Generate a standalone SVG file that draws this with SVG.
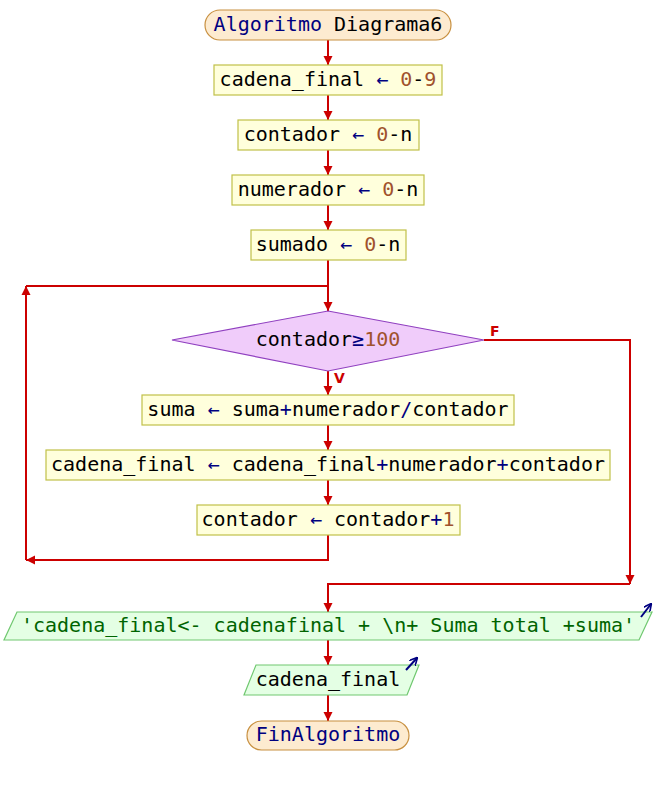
<svg xmlns="http://www.w3.org/2000/svg" width="656" height="785" viewBox="0 0 656 785">
  <style>
    text { font-family: "DejaVu Sans Mono", "Liberation Mono", monospace; font-size: 20px; fill: #000000; }
    .c { text-anchor: middle; }
    .kw { fill: #000080; }
    .op { fill: #000080; }
    .num { fill: #a0522d; }
    .str { fill: #006400; }
    .lbl { font-family: "DejaVu Sans", "Liberation Sans", sans-serif; font-size: 14px; font-weight: bold; fill: #cc0000; }
    .term { fill: #fdebd0; stroke: #c89040; stroke-width: 1.2; }
    .proc { fill: #ffffdc; stroke: #c0c048; stroke-width: 1.2; }
    .dec { fill: #f0ccfa; stroke: #9040c0; stroke-width: 1.2; }
    .io { fill: #e4ffe4; stroke: #70c870; stroke-width: 1.2; }
    .wire { fill: none; stroke: #cc0000; stroke-width: 2; }
    .outicon { fill: none; stroke: #000080; stroke-width: 2; }
  </style>
  <defs>
    <marker id="arr" viewBox="0 0 10 10" refX="10" refY="5" markerWidth="9" markerHeight="10" markerUnits="userSpaceOnUse" orient="auto">
      <path d="M0,0 L10,5 L0,10 Z" fill="#cc0000"/>
    </marker>
    <marker id="outarr" viewBox="0 0 10 10" refX="9" refY="5" markerWidth="8" markerHeight="8" markerUnits="userSpaceOnUse" orient="auto">
      <path d="M0,0 L10,5 L0,10" fill="none" stroke="#000080" stroke-width="2"/>
    </marker>
  </defs>

  <!-- connectors -->
  <g id="connectors">
    <line class="wire" x1="328" y1="40" x2="328" y2="65" marker-end="url(#arr)"/>
    <line class="wire" x1="328" y1="95" x2="328" y2="120" marker-end="url(#arr)"/>
    <line class="wire" x1="328" y1="150" x2="328" y2="175" marker-end="url(#arr)"/>
    <line class="wire" x1="328" y1="205" x2="328" y2="230" marker-end="url(#arr)"/>
    <line class="wire" x1="328" y1="260" x2="328" y2="311" marker-end="url(#arr)"/>
    <line class="wire" x1="328" y1="371" x2="328" y2="395" marker-end="url(#arr)"/>
    <line class="wire" x1="328" y1="425" x2="328" y2="450" marker-end="url(#arr)"/>
    <line class="wire" x1="328" y1="480" x2="328" y2="505" marker-end="url(#arr)"/>
    <!-- loop back -->
    <polyline class="wire" points="328,535 328,560 26,560" marker-end="url(#arr)"/>
    <polyline class="wire" points="26,560 26,286" marker-end="url(#arr)"/>
    <line class="wire" x1="26" y1="286" x2="328" y2="286"/>
    <!-- exit branch -->
    <polyline class="wire" points="484,340 630,340 630,584" marker-end="url(#arr)"/>
    <polyline class="wire" points="630,584 328,584 328,612" marker-end="url(#arr)"/>
    <line class="wire" x1="328" y1="640" x2="328" y2="665" marker-end="url(#arr)"/>
    <line class="wire" x1="328" y1="695" x2="328" y2="721" marker-end="url(#arr)"/>
    <text class="lbl" x="490" y="336">F</text>
    <text class="lbl" x="334" y="383">V</text>
  </g>

  <g id="start">
    <rect class="term" x="205" y="10" width="246" height="30" rx="15"/>
    <text class="c" x="328" y="31"><tspan class="kw">Algoritmo</tspan> Diagrama6</text>
  </g>

  <g id="set-cadena">
    <rect class="proc" x="214" y="65" width="228" height="30"/>
    <text class="c" x="328" y="86">cadena_final <tspan class="op">←</tspan> <tspan class="num">0</tspan>-<tspan class="num">9</tspan></text>
  </g>

  <g id="set-contador">
    <rect class="proc" x="238" y="120" width="181" height="30"/>
    <text class="c" x="328" y="141">contador <tspan class="op">←</tspan> <tspan class="num">0</tspan>-n</text>
  </g>

  <g id="set-numerador">
    <rect class="proc" x="232" y="175" width="192" height="30"/>
    <text class="c" x="328" y="196">numerador <tspan class="op">←</tspan> <tspan class="num">0</tspan>-n</text>
  </g>

  <g id="set-sumado">
    <rect class="proc" x="251" y="230" width="155" height="30"/>
    <text class="c" x="328" y="251">sumado <tspan class="op">←</tspan> <tspan class="num">0</tspan>-n</text>
  </g>

  <g id="loop-test">
    <polygon class="dec" points="328,311 484,340 328,371 172,340"/>
    <text class="c" x="328" y="346">contador<tspan class="op">≥</tspan><tspan class="num">100</tspan></text>
  </g>

  <g id="update-suma">
    <rect class="proc" x="142" y="395" width="372" height="30"/>
    <text class="c" x="328" y="416">suma <tspan class="op">←</tspan> suma<tspan class="op">+</tspan>numerador<tspan class="op">/</tspan>contador</text>
  </g>

  <g id="update-cadena">
    <rect class="proc" x="46" y="450" width="564" height="30"/>
    <text class="c" x="328" y="471">cadena_final <tspan class="op">←</tspan> cadena_final<tspan class="op">+</tspan>numerador<tspan class="op">+</tspan>contador</text>
  </g>

  <g id="inc-contador">
    <rect class="proc" x="197" y="505" width="263" height="30"/>
    <text class="c" x="328" y="526">contador <tspan class="op">←</tspan> contador<tspan class="op">+</tspan><tspan class="num">1</tspan></text>
  </g>

  <g id="write-message">
    <polygon class="io" points="17,612 652,612 639,640 4,640"/>
    <text class="c str" x="328" y="632">'cadena_final&lt;- cadenafinal + \n+ Suma total +suma'</text>
    <line class="outicon" x1="641" y1="617" x2="651" y2="604" marker-end="url(#outarr)"/>
  </g>

  <g id="write-cadena">
    <polygon class="io" points="256,665 419,665 407,695 244,695"/>
    <text class="c" x="328" y="686">cadena_final</text>
    <line class="outicon" x1="406" y1="670" x2="417" y2="658" marker-end="url(#outarr)"/>
  </g>

  <g id="end">
    <rect class="term" x="247" y="721" width="162" height="29" rx="14.5"/>
    <text class="c kw" x="328" y="741">FinAlgoritmo</text>
  </g>
</svg>
